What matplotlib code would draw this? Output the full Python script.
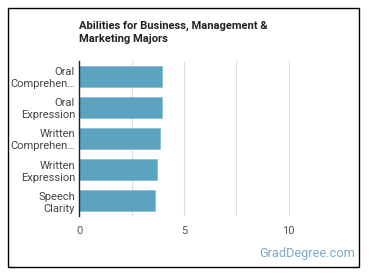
import matplotlib.pyplot as plt
from matplotlib.patches import Rectangle

plt.rcParams['font.family'] = ['Roboto', 'DejaVu Sans']

abilities = ["Oral\nComprehen…", "Oral\nExpression", "Written\nComprehen…",
             "Written\nExpression", "Speech\nClarity"]
scores = [3.97, 3.94, 3.87, 3.70, 3.63]
xticks = [0, 5, 10]

fig = plt.figure(figsize=(3.7, 2.78), dpi=100)
fig.patches.append(Rectangle((0.0216, 0.0396), 0.9486, 0.9317, transform=fig.transFigure,
                             fill=False, edgecolor='black', linewidth=1.0))

ax = fig.add_axes([0.2143, 0.223, 0.7073, 0.5576])
pos = list(range(len(abilities)))
ax.barh(pos, scores, height=0.65, color='#5ba3c0', edgecolor='#86bdd3', linewidth=0.6, zorder=3)
ax.set_ylim(len(abilities) - 0.5, -0.5)
ax.set_yticks(pos)
ax.set_yticklabels(abilities, fontsize=8, color='#444444', linespacing=1.25)
ax.set_xlim(0, 12.5)
ax.set_xticks(xticks)
ax.set_xticks([2.5, 7.5], minor=True)
ax.set_xticklabels([str(t) for t in xticks], fontsize=8, color='#555555')
ax.tick_params(axis='both', which='both', length=0)
ax.tick_params(axis='x', pad=7)
ax.tick_params(axis='y', pad=3)
ax.grid(axis='x', which='both', color='#dddddd', linewidth=0.8, zorder=0)
for s in ['top', 'right', 'bottom']:
    ax.spines[s].set_visible(False)
ax.spines['left'].set_color('#222222')
ax.spines['left'].set_linewidth(1.0)
ax.spines['left'].set_zorder(4)

fig.text(0.2143, 0.925, "Abilities for Business, Management &\nMarketing Majors",
         fontsize=8, fontweight='bold', color='#222222', va='top', ha='left', linespacing=1.3)
fig.text(0.96, 0.065, "GradDegree.com", fontsize=9.2, color='#7aaac8', ha='right', va='bottom')

fig.savefig('out.png', dpi=100)
